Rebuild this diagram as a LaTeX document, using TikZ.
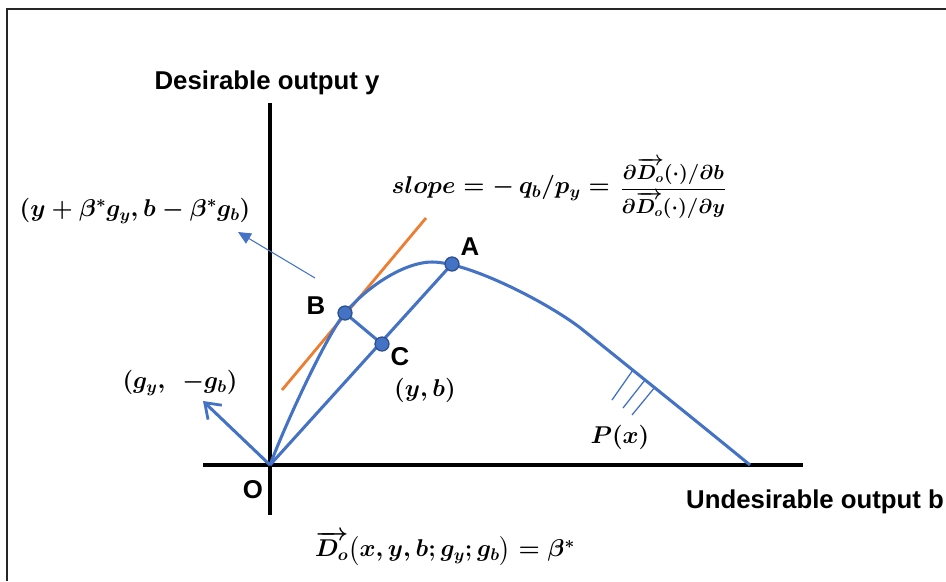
\documentclass[tikz,border=0pt]{standalone}
\usepackage{fontspec}
\usepackage{amsmath}
\usepackage{bm}
\usetikzlibrary{arrows.meta}
\newfontfamily\lsans{Liberation Sans}
\definecolor{cblue}{HTML}{4472C4}
\definecolor{cdark}{HTML}{2F528F}
\definecolor{corange}{HTML}{ED7D31}
\tikzset{
  lbl/.style={font=\lsans\bfseries\fontsize{22}{26}\selectfont, inner sep=0pt},
  mth/.style={font=\fontsize{20}{24}\selectfont\boldmath, inner sep=0pt},
  mthb/.style={font=\fontsize{22}{26}\selectfont\boldmath, inner sep=0pt},
  axis/.style={line width=4pt, black},
  curve/.style={line width=2.6pt, cblue},
  dotnode/.style={circle, fill=cblue, draw=cdark, line width=1.1pt, minimum size=0.42cm, inner sep=0pt},
  hatch/.style={line width=1.1pt, cblue},
  frameline/.style={line width=1.7pt, black!85}
}
\begin{document}
\begin{tikzpicture}[x=0.03cm, y=-0.03cm]
\useasboundingbox (0,0) rectangle (946,581);
% frame
\coordinate (f1) at (7,581);
\coordinate (f2) at (7,9);
\coordinate (f3) at (946,9);
\draw[frameline] (f1) -- (f2) -- (f3);
% axes
\coordinate (O) at (270,465);
\coordinate (ybot) at (270,515);
\coordinate (ytop) at (270,103);
\coordinate (xl) at (203,465);
\coordinate (xr) at (803,465);
\draw[axis] (ybot) -- (ytop);
\draw[axis] (xl) -- (xr);
% points
\coordinate (Apt) at (452,264);
\coordinate (Bpt) at (345,313);
\coordinate (Cpt) at (382,344);
\coordinate (Top) at (432,262);
\coordinate (Mid) at (583,330);
\coordinate (E) at (750,465);
% orange tangent
\coordinate (t1) at (282,390);
\coordinate (t2) at (426,218);
\draw[line width=2.4pt, corange] (t1) -- (t2);
% frontier curve
\draw[curve] (O) .. controls (285,425) and (326,336) .. (Bpt)
  .. controls (367.5,286) and (405,262) .. (Top)
  .. controls (470,262) and (552,305) .. (Mid)
  .. controls (650,384) and (700,424) .. (E);
% rays
\draw[curve] (O) -- (Apt);
\draw[curve] (Bpt) -- (Cpt);
% direction arrow
\coordinate (g) at (203,401);
\draw[curve, -{Straight Barb[length=12pt, width=17pt, line width=2.4pt]}] (O) -- (g);
% thin arrow
\coordinate (s1) at (315,278);
\coordinate (s2) at (238,232);
\draw[line width=0.9pt, cblue, -{Triangle[length=11pt, width=10pt]}] (s1) -- (s2);
% hatch
\coordinate (h1a) at (633,370); \coordinate (h1b) at (612,400);
\coordinate (h2a) at (645,380); \coordinate (h2b) at (623,408);
\coordinate (h3a) at (655,387); \coordinate (h3b) at (632,415);
\draw[hatch] (h1a) -- (h1b);
\draw[hatch] (h2a) -- (h2b);
\draw[hatch] (h3a) -- (h3b);
% dots
\node[dotnode] (A) at (Apt) {};
\node[dotnode] (B) at (Bpt) {};
\node[dotnode] (C) at (Cpt) {};
% labels
\node[lbl, anchor=base] (ylab) at (267,89) {Desirable output y};
\node[lbl, anchor=base west] (xlab) at (686,508) {Undesirable output b};
\node[lbl] (Olab) at (253,490) {O};
\node[lbl] (Alab) at (470,247) {A};
\node[lbl] (Blab) at (316,306) {B};
\node[lbl] (Clab) at (400,357) {C};
\node[mthb] (ybl) at (425,390) {$(y,b)$};
\node[mth] (px) at (620,437) {$P(x)$};
\node[mthb] (gdir) at (180,383) {$(g_y,\;\,-g_b)$};
\node[mth, font=\fontsize{21}{25}\selectfont\boldmath] (proj) at (135,211) {$(y+\beta^{*}g_y, b-\beta^{*}g_b)$};
\node[mth, anchor=east] (slope) at (610,188) {$slope=-\,q_b/p_y=$};
\node[mth, anchor=west, xshift=0.3cm, font=\fontsize{16}{19}\selectfont\boldmath] (frac) at (slope.east) {$\dfrac{\partial\overrightarrow{D_o}(\cdot)/\partial b}{\partial\overrightarrow{D_o}(\cdot)/\partial y}$};
\node[mth] (dist) at (445,548) {$\overrightarrow{D_o}\bigl(x,y,b;g_y;g_b\bigr)=\beta^{*}$};
\end{tikzpicture}
\end{document}
